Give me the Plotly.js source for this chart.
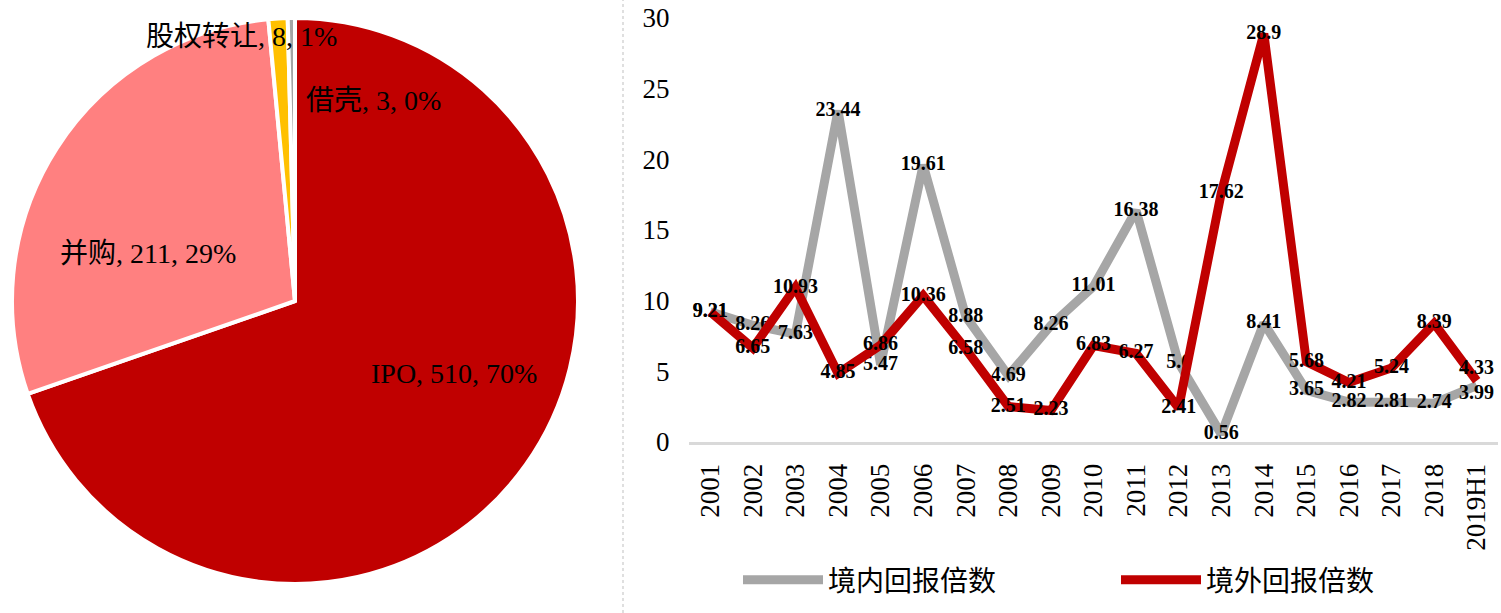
<!DOCTYPE html>
<html>
<head>
<meta charset="utf-8">
<script src="https://cdn.plot.ly/plotly-3.0.1.min.js"></script>
<style>
  html, body { margin: 0; padding: 0; background: #fff; }
  #chart { width: 1501px; height: 613px; }
</style>
</head>
<body>
<div id="chart"></div>
<script>
// ---- Data ----
const pieLabels = ["IPO", "并购", "股权转让", "借壳"];
const pieValues = [510, 211, 8, 3];
const pieColors = ["#C00000", "#FF8080", "#FFC000", "#A5A5A5"];

const years = ["2001", "2002", "2003", "2004", "2005", "2006", "2007", "2008", "2009", "2010",
               "2011", "2012", "2013", "2014", "2015", "2016", "2017", "2018", "2019H1"];
const domesticName = "境内回报倍数";
const domestic = [9.21, 8.26, 7.63, 23.44, 5.47, 19.61, 8.88, 4.69, 8.26, 11.01,
                  16.38, 5.6, 0.56, 8.41, 3.65, 2.82, 2.81, 2.74, 3.99];
const overseasName = "境外回报倍数";
const overseas = [9.21, 6.65, 10.93, 4.85, 6.86, 10.36, 6.58, 2.51, 2.23, 6.83,
                  6.27, 2.41, 17.62, 28.9, 5.68, 4.21, 5.24, 8.39, 4.33];

// ---- Layout helpers ----
const W = 1501, H = 613;
const px = x => x / W;
const py = y => 1 - y / H;
const FONT = '"Liberation Serif", "Times New Roman", "Noto Sans CJK SC", serif';
const LABEL_FONT = { family: FONT, size: 20, color: "#000", weight: "bold" };

const total = pieValues.reduce((a, b) => a + b, 0);
const pieText = pieLabels.map((l, i) => l + ", " + pieValues[i] + ", " + Math.round(pieValues[i] / total * 100) + "%");
// label positions (pixels) for each slice label
const pieLabelPos = [[454, 373], [148, 253], [241, 37], [373, 101]];

// the last points of both series sit close together: their labels are drawn as shifted annotations
const last = years.length - 1;
const domesticText = domestic.map((v, i) => i === last ? "" : String(v));
const overseasText = overseas.map((v, i) => i === last ? "" : String(v));

const traces = [
  {
    type: "pie",
    labels: pieLabels,
    values: pieValues,
    sort: false,
    direction: "clockwise",
    rotation: 0,
    marker: { colors: pieColors, line: { color: "#FFFFFF", width: 4 } },
    textinfo: "none",
    hoverinfo: "label+value+percent",
    showlegend: false,
    domain: { x: [px(295 - 283), px(295 + 283)], y: [py(584), py(18)] }
  },
  {
    type: "scatter",
    mode: "lines+text",
    name: domesticName,
    x: years,
    y: domestic,
    text: domesticText,
    textposition: "middle center",
    textfont: LABEL_FONT,
    line: { color: "#A6A6A6", width: 9 },
    xaxis: "x", yaxis: "y"
  },
  {
    type: "scatter",
    mode: "lines+text",
    name: overseasName,
    x: years,
    y: overseas,
    text: overseasText,
    textposition: "middle center",
    textfont: LABEL_FONT,
    line: { color: "#C00000", width: 9 },
    xaxis: "x", yaxis: "y"
  }
];

const annotations = pieText.map((t, i) => ({
  xref: "paper", yref: "paper",
  x: px(pieLabelPos[i][0]), y: py(pieLabelPos[i][1]),
  text: t, showarrow: false,
  xanchor: "center", yanchor: "middle",
  font: { family: FONT, size: 28, color: "#000" }
}));
annotations.push({
  xref: "x", yref: "y", x: years[last], y: overseas[last],
  text: String(overseas[last]), showarrow: false,
  xanchor: "center", yanchor: "middle", yshift: 14,
  font: LABEL_FONT
});
annotations.push({
  xref: "x", yref: "y", x: years[last], y: domestic[last],
  text: String(domestic[last]), showarrow: false,
  xanchor: "center", yanchor: "middle", yshift: -6,
  font: LABEL_FONT
});

const layout = {
  width: W, height: H,
  margin: { l: 0, r: 0, t: 0, b: 0 },
  paper_bgcolor: "#FFFFFF",
  plot_bgcolor: "rgba(0,0,0,0)",
  font: { family: FONT, color: "#000" },
  xaxis: {
    type: "category",
    domain: [px(689), px(1498)],
    range: [-0.5, years.length - 0.5],
    anchor: "y",
    showline: true, linecolor: "#D9D9D9", linewidth: 3,
    showgrid: false, zeroline: false,
    ticks: "outside", ticklen: 8, tickcolor: "rgba(0,0,0,0)",
    tickangle: -90,
    tickfont: { family: FONT, size: 27, color: "#000" }
  },
  yaxis: {
    domain: [py(442), py(18)],
    anchor: "x",
    range: [0, 30],
    dtick: 5,
    showline: false, showgrid: false, zeroline: false,
    ticks: "outside", ticklen: 13, tickcolor: "rgba(0,0,0,0)",
    tickfont: { family: FONT, size: 27, color: "#000" }
  },
  showlegend: true,
  legend: {
    orientation: "h",
    x: px(1116), xanchor: "center",
    y: py(580), yanchor: "middle",
    font: { family: FONT, size: 28, color: "#000" },
    itemwidth: 80,
    entrywidth: 283,
    bgcolor: "rgba(0,0,0,0)"
  },
  annotations: annotations,
  shapes: [{
    type: "line", xref: "paper", yref: "paper",
    x0: px(623), x1: px(623), y0: 0, y1: 1,
    line: { color: "#BFBFBF", width: 1, dash: "dot" }
  }]
};

Plotly.newPlot("chart", traces, layout, { displayModeBar: false, staticPlot: true });
</script>
</body>
</html>
